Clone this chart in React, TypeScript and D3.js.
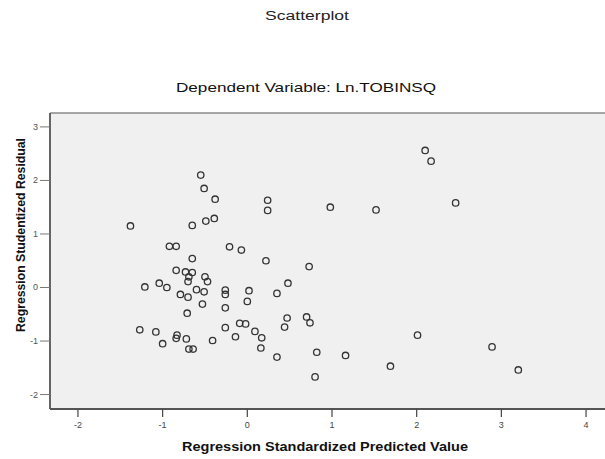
import React from "react";
import * as d3 from "d3";

const predicted = [
  -0.55, -0.51, -0.38, -0.49, -0.39, -0.65, -1.38, -0.92, -0.84, -0.21, -0.07, -0.65,
  -0.84, -0.73, -0.65, -0.69, -0.7, -0.5, -0.47, -1.21, -1.04, -0.95, -0.79, -0.7,
  -0.6, -0.51, -0.26, -0.26, -0.53, -0.71, -0.26, -0.09, -1.27, -1.08, -1.0, -0.83,
  -0.84, -0.72, -0.69, -0.64, -0.41, -0.26, -0.14, 2.1, 2.17, 0.24, 0.24, 0.98,
  1.52, 0.22, 0.73, 0.48, 0.02, 0.35, 0.0, -0.02, 0.47, 0.44, 0.7, 0.74,
  0.09, 0.17, 0.16, 0.35, 0.82, 1.16, 1.69, 0.8, 2.01, 2.46, 2.89, 3.2,
];
const residual = [
  2.1, 1.85, 1.65, 1.24, 1.29, 1.16, 1.15, 0.77, 0.77, 0.76, 0.7, 0.54,
  0.32, 0.29, 0.28, 0.2, 0.11, 0.2, 0.11, 0.01, 0.08, 0.0, -0.13, -0.18,
  -0.04, -0.08, -0.05, -0.13, -0.31, -0.48, -0.38, -0.67, -0.79, -0.83, -1.05, -0.89,
  -0.95, -0.96, -1.15, -1.15, -0.99, -0.75, -0.92, 2.56, 2.36, 1.63, 1.44, 1.5,
  1.45, 0.5, 0.39, 0.08, -0.06, -0.11, -0.26, -0.68, -0.57, -0.74, -0.55, -0.66,
  -0.82, -0.94, -1.13, -1.3, -1.21, -1.27, -1.47, -1.67, -0.89, 1.58, -1.11, -1.54,
];
const xTicks = [-2, -1, 0, 1, 2, 3, 4];
const yTicks = [-2, -1, 0, 1, 2, 3];

const title = "Scatterplot";
const subtitle = "Dependent Variable: Ln.TOBINSQ";
const xLabel = "Regression Standardized Predicted Value";
const yLabel = "Regression Studentized Residual";

const W = 605;
const H = 459;
const left = 50;
const right = 614;
const top = 113;
const bottom = 409;
const font = "'Liberation Sans', Arial, sans-serif";

export default function App() {
  const x = d3.scaleLinear().domain([-2.33, 4.33]).range([left, right]);
  const y = d3.scaleLinear().domain([-2.27, 3.26]).range([bottom, top]);
  const pts = predicted.map((p, i) => ({ p, r: residual[i] }));
  return (
    <svg
      width={W}
      height={H}
      style={{ position: "absolute", left: 0, top: 0, background: "#fff" }}
      fontFamily={font}
    >
      <text x={307} y={20} textAnchor="middle" fontSize={12} fill="#222"
        textLength={84} lengthAdjust="spacingAndGlyphs">{title}</text>
      <text x={306} y={92} textAnchor="middle" fontSize={13} fill="#111"
        textLength={260} lengthAdjust="spacingAndGlyphs">{subtitle}</text>
      <rect x={left} y={top} width={right - left} height={bottom - top} fill="#f0f0f0" />
      <line x1={left} x2={W} y1={top} y2={top} stroke="#8a8a8a" strokeWidth={1.5} />
      <line x1={left} x2={left} y1={top} y2={bottom} stroke="#555" strokeWidth={1.8} />
      <line x1={left} x2={W} y1={bottom} y2={bottom} stroke="#555" strokeWidth={1.8} />
      {yTicks.map((t) => (
        <g key={"y" + t}>
          <line x1={left - 10} x2={left} y1={y(t)} y2={y(t)} stroke="#777" strokeWidth={1} />
          <text x={38} y={y(t) + 3} textAnchor="end" fontSize={9} fill="#555">{t}</text>
        </g>
      ))}
      {xTicks.map((t) => (
        <g key={"x" + t}>
          <line x1={x(t)} x2={x(t)} y1={bottom} y2={bottom + 8} stroke="#444" strokeWidth={1.2} />
          <text x={x(t)} y={428} textAnchor="middle" fontSize={9} fill="#444">{t}</text>
        </g>
      ))}
      {pts.map((d, i) => (
        <circle key={i} cx={x(d.p)} cy={y(d.r)} r={3.2} fill="none" stroke="#333" strokeWidth={1.3} />
      ))}
      <text x={325} y={451} textAnchor="middle" fontSize={13} fontWeight="bold" fill="#111"
        textLength={286} lengthAdjust="spacingAndGlyphs">{xLabel}</text>
      <text transform="translate(25,235) rotate(-90)" textAnchor="middle" fontSize={12}
        fontWeight="bold" fill="#111" textLength={194} lengthAdjust="spacingAndGlyphs">{yLabel}</text>
    </svg>
  );
}
